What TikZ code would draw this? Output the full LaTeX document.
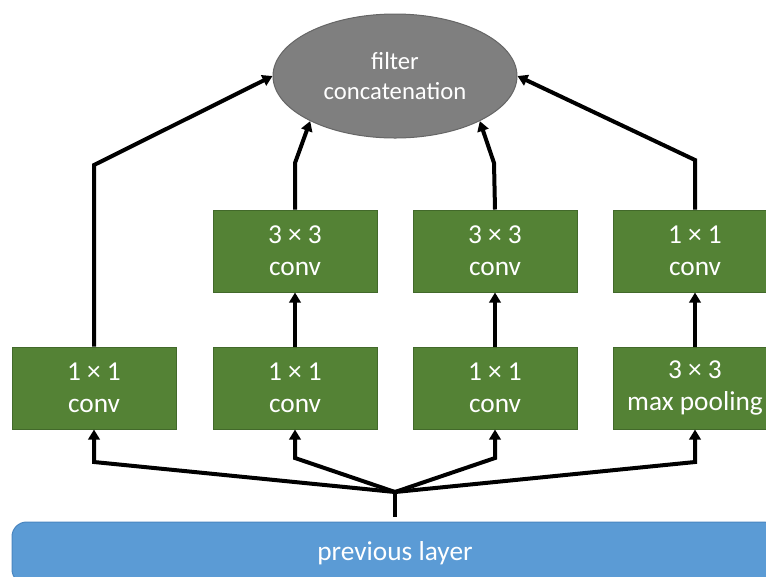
\documentclass[tikz,border=0pt]{standalone}
\usepackage{fontspec}
\setmainfont{Carlito}
\usetikzlibrary{shapes.geometric,arrows.meta}
\definecolor{convgreen}{HTML}{548235}
\definecolor{convedge}{HTML}{42692A}
\definecolor{layerblue}{HTML}{5B9BD5}
\definecolor{layeredge}{HTML}{4A86C0}
\definecolor{catgray}{HTML}{7F7F7F}
\definecolor{catedge}{HTML}{666666}
\begin{document}
\begin{tikzpicture}[x=0.75pt,y=-0.75pt,
  opbox/.style={draw=convedge, line width=0.75pt, fill=convgreen, text=white,
    minimum width=123pt, minimum height=61.5pt, inner sep=0pt, align=center,
    font=\fontsize{20.5}{24}\selectfont},
  catnode/.style={ellipse, draw=catedge, line width=0.75pt, fill=catgray, text=white,
    minimum width=183pt, minimum height=93pt, inner sep=0pt, align=center,
    font=\fontsize{18.5}{22.5}\selectfont},
  layer/.style={draw=layeredge, line width=0.75pt, fill=layerblue, text=white,
    rounded corners=11pt, minimum width=574.5pt, minimum height=46.5pt, inner sep=0pt,
    font=\fontsize{20.5}{24}\selectfont},
  flow/.style={line width=3pt, -{Triangle[length=7.5pt,width=8.5pt]}},
  feed/.style={line width=3pt}
]
\useasboundingbox (0,0) rectangle (766,576);
\clip (0,0) rectangle (766,576);

% concatenation of all branch outputs
\node[catnode] (cat) at (395,76) {filter\\concatenation};

% upper row of the four branches
\node[opbox] (t2) at (295,251) {3 × 3\\conv};
\node[opbox] (t3) at (495,251) {3 × 3\\conv};
\node[opbox] (t4) at (695,251) {1 × 1\\conv};

% lower row of the four branches
\node[opbox] (b1) at (94,388) {1 × 1\\conv};
\node[opbox] (b2) at (295,388) {1 × 1\\conv};
\node[opbox] (b3) at (495,388) {1 × 1\\conv};
\node[opbox] (b4) at (695,388) {3 × 3\\max pooling};

% input
\node[layer] (prev) at (395,553) {previous layer};

% split point and bends
\coordinate (j) at (395,492);
\coordinate (c1) at (94,462);
\coordinate (c2) at (295,458);
\coordinate (c3) at (495,458);
\coordinate (c4) at (695,462);
\coordinate (u1) at (94,165);
\coordinate (u2) at (295,163);
\coordinate (u3) at (494,163);
\coordinate (u4) at (695,160);

% fan-out from the previous layer
\draw[feed, shorten <=3.75pt] (prev.north) -- (j);
\draw[flow] (j) -- (c1) -- (b1.south);
\draw[flow] (j) -- (c2) -- (b2.south);
\draw[flow] (j) -- (c3) -- (b3.south);
\draw[flow] (j) -- (c4) -- (b4.south);

% lower to upper row
\draw[flow] (b2.north) -- (t2.south);
\draw[flow] (b3.north) -- (t3.south);
\draw[flow] (b4.north) -- (t4.south);

% into the concatenation
\draw[flow] (b1.north) -- (u1) -- (cat.west);
\draw[flow] (t2.north) -- (u2) -- (cat.208);
\draw[flow] (t3.north) -- (u3) -- (cat.332);
\draw[flow] (t4.north) -- (u4) -- (cat.east);
\end{tikzpicture}
\end{document}
